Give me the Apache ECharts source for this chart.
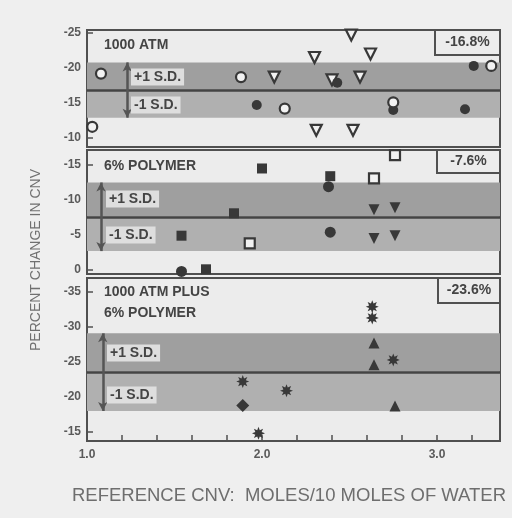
<!DOCTYPE html>
<html>
<head>
<meta charset="utf-8">
<script src="https://cdn.jsdelivr.net/npm/echarts@6/dist/echarts.min.js"></script>
<style>
html,body{margin:0;padding:0;background:#efefef;}
#chart{width:512px;height:518px;}
</style>
</head>
<body>
<div id="chart"></div>
<script>
// ---------------- DATA ----------------
const panelTitles = [["1000 ATM"], ["6% POLYMER"], ["1000 ATM PLUS", "6% POLYMER"]];
const means = [-16.8, -7.6, -23.6];
const bandUpper = [-20.8, -12.5, -29.1];   // +1 S.D.
const bandLower = [-12.9, -2.7, -18.0];    // -1 S.D.
const yTicks = [[-25, -20, -15, -10], [-15, -10, -5, 0], [-35, -30, -25, -20, -15]];
const yRanges = [[-25.43, -8.71], [-17.14, 0.57], [-37.0, -13.71]];
const xTicks = [1.0, 1.2, 1.4, 1.6, 1.8, 2.0, 2.2, 2.4, 2.6, 2.8, 3.0, 3.2];
const xLabels = [1.0, 2.0, 3.0];
const xRange = [1.0, 3.36];
const sdArrowX = [1.23, 1.08, 1.09];

// panel 1 : 1000 ATM
const p1OpenCircle = [[1.03, -11.6], [1.08, -19.2], [1.88, -18.7], [2.13, -14.2], [2.75, -15.1], [3.31, -20.3]];
const p1FilledCircle = [[1.97, -14.7], [2.43, -17.9], [2.75, -14.0], [3.16, -14.1], [3.21, -20.3]];
const p1OpenTriangle = [[2.07, -18.7], [2.30, -21.5], [2.51, -24.7], [2.62, -22.0], [2.56, -18.7], [2.40, -18.3], [2.31, -11.1], [2.52, -11.1]];
// panel 2 : 6% polymer
const p2FilledSquare = [[2.00, -14.5], [2.39, -13.4], [1.84, -8.1], [1.54, -4.9], [1.68, -0.1]];
const p2OpenSquare = [[2.76, -16.4], [2.64, -13.1], [1.93, -3.8]];
const p2FilledCircle = [[2.38, -11.9], [2.39, -5.4], [1.54, 0.2]];
const p2FilledTriangle = [[2.64, -8.6], [2.76, -8.9], [2.64, -4.5], [2.76, -4.9]];
// panel 3 : 1000 ATM plus 6% polymer
const p3Asterisk = [[2.63, -32.9], [2.63, -31.3], [2.75, -25.3], [1.89, -22.2], [2.14, -20.9], [1.98, -14.8]];
const p3FilledTriangle = [[2.64, -27.7], [2.64, -24.6], [2.76, -18.7]];
const p3Diamond = [[1.89, -18.8]];

// ---------------- STYLE / LAYOUT ----------------
const INK = '#383838';
const FRAME = '#505050';
const PANEL_BG = '#ececec';
const gridsPos = [{top: 30, height: 117}, {top: 150, height: 124}, {top: 278, height: 163}];
const LEFT = 87, RIGHT = 12;

function starPath(n, rIn) {
  let d = 'path://';
  for (let i = 0; i < 2 * n; i++) {
    const a = Math.PI * i / n - Math.PI / 2;
    const r = i % 2 ? rIn : 1;
    d += (i ? 'L' : 'M') + (Math.cos(a) * r * 10 + 10).toFixed(2) + ' ' + (Math.sin(a) * r * 10 + 10).toFixed(2) + ' ';
  }
  return d + 'Z';
}
const ASTERISK = starPath(8, 0.52);

const grid = gridsPos.map(g => ({left: LEFT, right: RIGHT, top: g.top, height: g.height,
  show: true, backgroundColor: PANEL_BG, borderColor: FRAME, borderWidth: 2}));

const xAxis = gridsPos.map((g, i) => ({
  type: 'value', gridIndex: i, min: xRange[0], max: xRange[1],
  splitLine: {show: false}, axisLine: {show: false},
  axisTick: {show: i === 2, inside: true, length: 6, lineStyle: {color: FRAME, width: 1.5}, customValues: xTicks},
  axisLabel: {show: i === 2, customValues: xLabels, formatter: v => v.toFixed(1), color: '#5a5a5a',
    fontFamily: 'Liberation Sans', fontWeight: 'bold', fontSize: 12, margin: 8}
}));

const yAxis = gridsPos.map((g, i) => ({
  type: 'value', gridIndex: i, inverse: true, min: yRanges[i][0], max: yRanges[i][1],
  splitLine: {show: false}, axisLine: {show: false},
  axisTick: {show: true, inside: true, length: 6, lineStyle: {color: FRAME, width: 1.5}, customValues: yTicks[i]},
  axisLabel: {customValues: yTicks[i], color: '#5a5a5a', fontFamily: 'Liberation Sans', fontWeight: 'bold', fontSize: 12, margin: 6}
}));

function scatter(idx, data, symbol, size, open, rotate) {
  return {
    type: 'scatter', xAxisIndex: idx, yAxisIndex: idx, data: data, symbol: symbol, symbolSize: size,
    symbolRotate: rotate || 0, z: 5,
    itemStyle: open ? {color: '#f2f2f2', borderColor: INK, borderWidth: 2.2, opacity: 1} : {color: INK, opacity: 1}
  };
}

const series = [];
for (let i = 0; i < 3; i++) {
  // bands + mean line
  series.push({
    type: 'scatter', xAxisIndex: i, yAxisIndex: i, data: [], silent: true,
    markArea: {silent: true, data: [
      [{yAxis: bandUpper[i], itemStyle: {color: '#9f9f9f', opacity: 1}}, {yAxis: means[i]}],
      [{yAxis: means[i], itemStyle: {color: '#b0b0b0', opacity: 1}}, {yAxis: bandLower[i]}]
    ]},
    markLine: {silent: true, symbol: 'none', label: {show: false},
      lineStyle: {color: '#444', width: 2.5, type: 'solid', opacity: 1},
      data: [{yAxis: means[i]}]}
  });
  // S.D. arrow
  series.push({
    type: 'scatter', xAxisIndex: i, yAxisIndex: i, data: [], silent: true,
    markLine: {silent: true, symbol: ['arrow', 'arrow'], symbolSize: [7, 9], label: {show: false},
      lineStyle: {color: '#555', width: 2.5, type: 'solid', opacity: 1},
      data: [[{coord: [sdArrowX[i], bandUpper[i]]}, {coord: [sdArrowX[i], bandLower[i]]}]]}
  });
}

series.push(scatter(0, p1OpenTriangle, 'triangle', 11, true, 180));
series.push(scatter(0, p1FilledCircle, 'circle', 10, false));
series.push(scatter(0, p1OpenCircle, 'circle', 10, true));
series.push(scatter(1, p2FilledSquare, 'rect', 10, false));
series.push(scatter(1, p2OpenSquare, 'rect', 10, true));
series.push(scatter(1, p2FilledCircle, 'circle', 11, false));
series.push(scatter(1, p2FilledTriangle, 'triangle', 11, false, 180));
series.push(scatter(2, p3Asterisk, ASTERISK, 13, false));
series.push(scatter(2, p3FilledTriangle, 'triangle', 11, false));
series.push(scatter(2, p3Diamond, 'diamond', 13, false));

// ---------------- GRAPHIC ANNOTATIONS ----------------
const graphic = [];
const boldFont = 'bold 14px "Liberation Sans", Arial, sans-serif';
const titleLines = [[45], [166], [292, 313]];
panelTitles.forEach((lines, i) => {
  lines.forEach((t, j) => {
    graphic.push({type: 'text', x: 104, y: titleLines[i][j], z: 20,
      style: {text: t, font: boldFont, fill: '#444', verticalAlign: 'middle'}});
  });
});
// percentage boxes
const boxPos = [{x: 435, y: 30, h: 25}, {x: 437, y: 150, h: 23}, {x: 438, y: 278, h: 25}];
boxPos.forEach((b, i) => {
  graphic.push({type: 'rect', z: 20, shape: {x: b.x, y: b.y, width: 500 - b.x, height: b.h},
    style: {fill: PANEL_BG, stroke: FRAME, lineWidth: 2}});
  graphic.push({type: 'text', z: 21, x: (b.x + 500) / 2, y: b.y + b.h / 2,
    style: {text: means[i].toFixed(1) + '%', font: boldFont,
      fill: '#444', align: 'center', verticalAlign: 'middle'}});
});
// S.D. labels
const sdLabelPos = [{x: 131, up: 77, dn: 105}, {x: 106, up: 199, dn: 235}, {x: 107, up: 353, dn: 395}];
sdLabelPos.forEach(p => {
  [['+1 S.D.', p.up], ['-1 S.D.', p.dn]].forEach(([t, y]) => {
    graphic.push({type: 'text', z: 20, x: p.x, y: y,
      style: {text: t, font: boldFont, fill: '#444',
        verticalAlign: 'middle', backgroundColor: '#dedede', padding: [2, 3, 1, 3]}});
  });
});
// axis titles
graphic.push({type: 'text', z: 20, x: 36, y: 260, rotation: Math.PI / 2,
  style: {text: 'PERCENT CHANGE IN CNV', font: '14px "Liberation Sans", Arial, sans-serif', fill: '#707070',
    align: 'center', verticalAlign: 'middle'}});
graphic.push({type: 'text', z: 20, x: 289, y: 496,
  style: {text: 'REFERENCE CNV:  MOLES/10 MOLES OF WATER', font: '18.5px "Liberation Sans", Arial, sans-serif', fill: '#6e6e6e',
    align: 'center', verticalAlign: 'middle'}});

const chart = echarts.init(document.getElementById('chart'), null, {renderer: 'canvas'});
chart.setOption({
  backgroundColor: '#efefef',
  animation: false,
  tooltip: {show: false},
  grid: grid, xAxis: xAxis, yAxis: yAxis, series: series, graphic: graphic
});
</script>
</body>
</html>
